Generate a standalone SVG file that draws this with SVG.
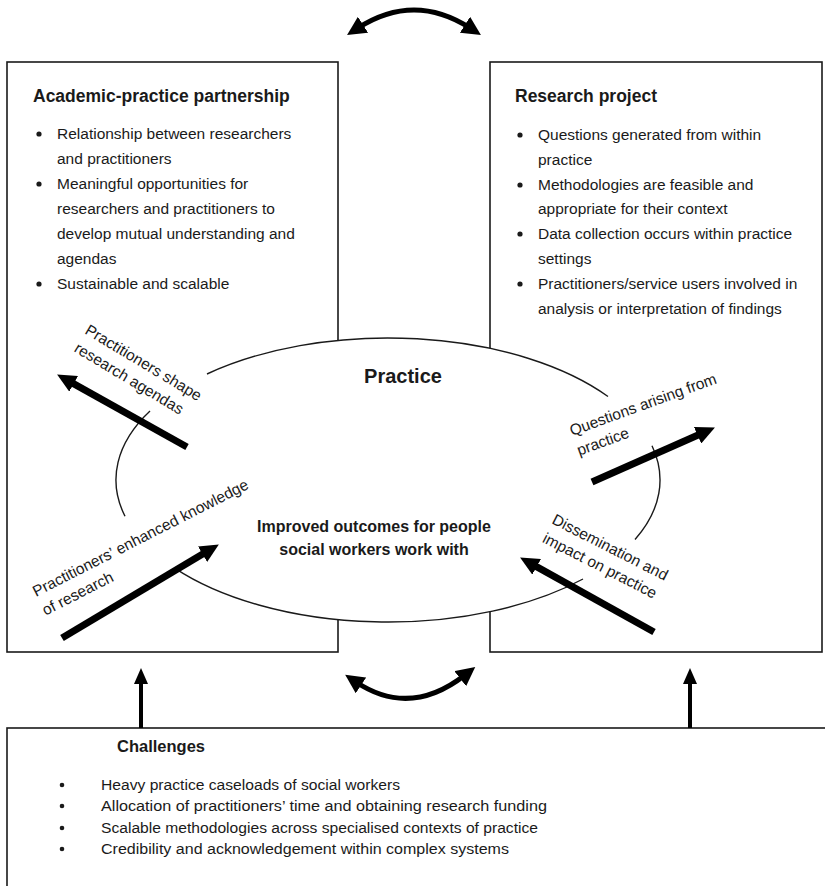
<svg xmlns="http://www.w3.org/2000/svg" width="825" height="886" viewBox="0 0 825 886">
<style>
  .box { fill: #fff; stroke: #1a1a1a; stroke-width: 1.6; }
  .t { font-family: "Liberation Sans", Arial, sans-serif; fill: #1a1a1a; }
  .hd { font-size: 17.5px; font-weight: bold; }
  .bl { font-size: 15.5px; }
  .lbl { font-size: 15.5px; }
  .ctr { font-weight: bold; text-anchor: middle; }
  .ch { font-size: 14px; }
  .dot { fill: #1a1a1a; }
  .rim { fill: none; stroke: #1a1a1a; stroke-width: 1.4; }
  .thick { stroke: #000; stroke-width: 7; fill: none; }
  .up { stroke: #000; stroke-width: 4; fill: none; }
  .curve { stroke: #000; stroke-width: 5; fill: none; }
</style>
<defs>
  <marker id="headL" markerUnits="userSpaceOnUse" markerWidth="20" markerHeight="18" viewBox="0 0 20 18" refX="8" refY="9" orient="auto">
    <path d="M0,0 L19,9 L0,18 z" fill="#000"/>
  </marker>
  <marker id="headS" markerUnits="userSpaceOnUse" markerWidth="16" markerHeight="14" viewBox="0 0 16 14" refX="6" refY="7" orient="auto">
    <path d="M0,0 L16,7 L0,14 z" fill="#000"/>
  </marker>
  <marker id="headC" markerUnits="userSpaceOnUse" markerWidth="19" markerHeight="19" viewBox="0 0 19 19" refX="6" refY="9.5" orient="auto-start-reverse">
    <path d="M0,0 L19,9.5 L0,19 z" fill="#000"/>
  </marker>
</defs>

<g id="academic-practice-partnership">
  <rect class="box" x="7" y="62" width="331" height="590"/>
  <text class="t hd" x="33" y="102">Academic-practice partnership</text>
  <circle class="dot" cx="39" cy="134" r="2.6"/>
  <circle class="dot" cx="39" cy="184" r="2.6"/>
  <circle class="dot" cx="39" cy="284" r="2.6"/>
  <g class="t bl">
    <text x="57" y="139">Relationship between researchers</text>
    <text x="57" y="164">and practitioners</text>
    <text x="57" y="189">Meaningful opportunities for</text>
    <text x="57" y="214">researchers and practitioners to</text>
    <text x="57" y="239">develop mutual understanding and</text>
    <text x="57" y="264">agendas</text>
    <text x="57" y="289">Sustainable and scalable</text>
  </g>
</g>

<g id="research-project">
  <rect class="box" x="490" y="62" width="332" height="590"/>
  <text class="t hd" x="515" y="102">Research project</text>
  <circle class="dot" cx="520" cy="135" r="2.6"/>
  <circle class="dot" cx="520" cy="185" r="2.6"/>
  <circle class="dot" cx="520" cy="234" r="2.6"/>
  <circle class="dot" cx="520" cy="284" r="2.6"/>
  <g class="t bl">
    <text x="538" y="140">Questions generated from within</text>
    <text x="538" y="165">practice</text>
    <text x="538" y="190">Methodologies are feasible and</text>
    <text x="538" y="214">appropriate for their context</text>
    <text x="538" y="239">Data collection occurs within practice</text>
    <text x="538" y="264">settings</text>
    <text x="538" y="289">Practitioners/service users involved in</text>
    <text x="538" y="314">analysis or interpretation of findings</text>
  </g>
</g>

<g id="challenges">
  <rect class="box" x="7" y="728" width="830" height="170"/>
  <text class="t" x="117" y="752" font-size="16.5" font-weight="bold">Challenges</text>
  <circle class="dot" cx="62" cy="785" r="2.3"/>
  <circle class="dot" cx="62" cy="806" r="2.3"/>
  <circle class="dot" cx="62" cy="828" r="2.3"/>
  <circle class="dot" cx="62" cy="849" r="2.3"/>
  <g class="t ch">
    <text x="101" y="790" textLength="299" lengthAdjust="spacingAndGlyphs">Heavy practice caseloads of social workers</text>
    <text x="101" y="811" textLength="446" lengthAdjust="spacingAndGlyphs">Allocation of practitioners’ time and obtaining research funding</text>
    <text x="101" y="833" textLength="437" lengthAdjust="spacingAndGlyphs">Scalable methodologies across specialised contexts of practice</text>
    <text x="101" y="854" textLength="408" lengthAdjust="spacingAndGlyphs">Credibility and acknowledgement within complex systems</text>
  </g>
</g>

<g id="practice">
  <ellipse cx="388" cy="480" rx="272" ry="142" fill="#fff"/>
  <path class="rim" d="M150,411.1 A272,142 0 0 0 125,516.2"/>
  <path class="rim" d="M175,568.3 A272,142 0 0 0 583,579"/>
  <path class="rim" d="M635,539.5 A272,142 0 0 0 652,445.8"/>
  <path class="rim" d="M608,396.5 A272,142 0 0 0 207,374"/>
  <text class="t ctr" x="403" y="383" font-size="20">Practice</text>
  <text class="t ctr" x="374" y="532" font-size="16">Improved outcomes for people</text>
  <text class="t ctr" x="374" y="555" font-size="16">social workers work with</text>
</g>

<g id="label-shape-agendas" class="t lbl" transform="translate(84,333) rotate(31)">
  <text x="0" y="0">Practitioners shape</text>
  <text x="0" y="21">research agendas</text>
</g>
<g id="label-enhanced-knowledge" class="t lbl" transform="translate(36,597) rotate(-27)">
  <text x="0" y="0">Practitioners’ enhanced knowledge</text>
  <text x="0" y="21">of research</text>
</g>
<g id="label-questions" class="t lbl" transform="translate(572,436) rotate(-20)">
  <text x="0" y="0">Questions arising from</text>
  <text x="0" y="21">practice</text>
</g>
<g id="label-dissemination" class="t lbl" transform="translate(551,523) rotate(27)">
  <text x="0" y="0">Dissemination and</text>
  <text x="0" y="21">impact on practice</text>
</g>

<g id="connectors">
  <line class="thick" x1="187" y1="447" x2="66.7" y2="379.9" marker-end="url(#headL)"/>
  <line class="thick" x1="62" y1="638" x2="209.4" y2="550.1" marker-end="url(#headL)"/>
  <line class="thick" x1="592" y1="482" x2="704.9" y2="432" marker-end="url(#headL)"/>
  <line class="thick" x1="654" y1="632" x2="529.7" y2="562.9" marker-end="url(#headL)"/>
  <line class="up" x1="141" y1="728" x2="141" y2="678" marker-end="url(#headS)"/>
  <line class="up" x1="690" y1="728" x2="690" y2="678" marker-end="url(#headS)"/>
  <path class="curve" d="M358,28 Q414,-8 470,28" marker-start="url(#headC)" marker-end="url(#headC)"/>
  <path class="curve" d="M356,682 Q410,718 465,675" marker-start="url(#headC)" marker-end="url(#headC)"/>
</g>
</svg>
